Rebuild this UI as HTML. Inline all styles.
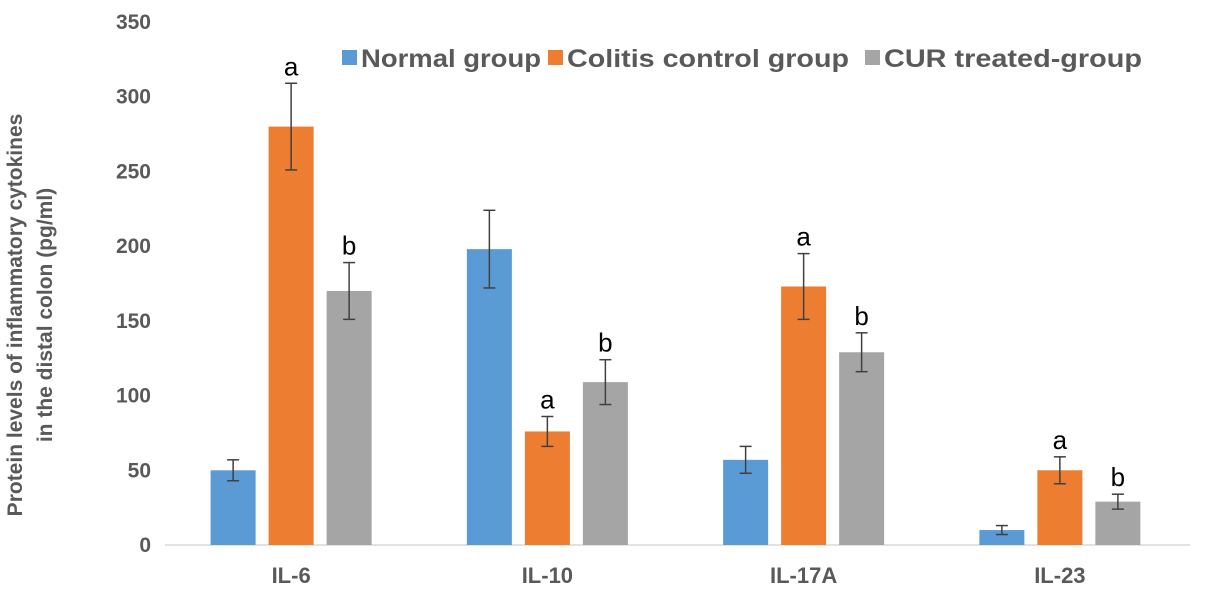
<!DOCTYPE html>
<html><head><meta charset="utf-8"><style>
body{margin:0;background:#fff;}
svg text{font-family:"Liberation Sans",Arial,sans-serif;}
</style></head><body>
<svg id="chart" width="1205" height="601" xmlns="http://www.w3.org/2000/svg"></svg>
<script>
const categories=["IL-6","IL-10","IL-17A","IL-23"];
const seriesNames=["Normal group","Colitis control group","CUR treated-group"];
const normalValues=[50,198,57,10];
const colitisValues=[280,76,173,50];
const curValues=[170,109,129,29];
const normalErr=[7,26,9,3];
const colitisErr=[29,10,22,9];
const curErr=[19,15,13,5];
const colitisLetters=["a","a","a","a"];
const curLetters=["b","b","b","b"];
const yTicks=[0,50,100,150,200,250,300,350];

const svg=document.getElementById('chart');
const NS="http://www.w3.org/2000/svg";
const colors=["#5B9BD5","#ED7D31","#A5A5A5"];
const y0=545,yTop=22,yMax=350;
const xL=165,xR=1190;
const y=v=>y0-(v/yMax)*(y0-yTop);
const groupW=(xR-xL)/categories.length;
const gc=i=>xL+groupW*(i+0.5)-2;
const barW=45,step=58;
function el(t,a,p){const e=document.createElementNS(NS,t);for(const k in a)e.setAttribute(k,a[k]);(p||svg).appendChild(e);return e;}

yTicks.forEach(t=>{
  const tx=el('text',{x:151,y:y(t)+7,'text-anchor':'end','font-size':21,'font-weight':'bold',fill:'#595959'});
  tx.textContent=t;
  
  
});
const ax=el('line',{x1:xL,x2:xR,y1:y0,y2:y0,stroke:'#D9D9D9','stroke-width':1.5});



const yt=el('text',{transform:'translate(36,315) rotate(-90)','text-anchor':'middle','font-size':21,'font-weight':'bold',fill:'#595959'});


const t1=el('tspan',{x:0,dy:-14},yt);t1.textContent="Protein levels of inflammatory cytokines";
const t2=el('tspan',{x:0,dy:30},yt);t2.textContent="in the distal colon (pg/ml)";

const vals=[normalValues,colitisValues,curValues];
const errs=[normalErr,colitisErr,curErr];
categories.forEach((c,i)=>{
  const cx=gc(i);
  const lab=el('text',{x:cx,y:583,'text-anchor':'middle','font-size':22,'font-weight':'bold',fill:'#595959'});
  lab.textContent=c;
  
  
  for(let s=0;s<3;s++){
    const bx=cx+(s-1)*step-barW/2;
    const v=vals[s][i],e=errs[s][i];
    const r=el('rect',{x:bx,y:y(v),width:barW,height:y0-y(v),fill:colors[s]});
    
    
    const m=bx+barW/2;
    const g=el('g',{stroke:'#404040','stroke-width':1.5});
    
    
    el('line',{x1:m,x2:m,y1:y(v+e),y2:y(v-e)},g);
    el('line',{x1:m-6,x2:m+6,y1:y(v+e),y2:y(v+e)},g);
    el('line',{x1:m-6,x2:m+6,y1:y(v-e),y2:y(v-e)},g);
    const L=s===1?colitisLetters[i]:s===2?curLetters[i]:"";
    if(L){
      const lt=el('text',{x:m,y:y(v+e)-8,'text-anchor':'middle','font-size':26,fill:'#000'});
      lt.textContent=L;
      
      
    }
  }
});
const legX=[342,548,865];
const legLen=[180,282,258];
seriesNames.forEach((n,s)=>{
  const g=el('g',{});
  
  
  el('rect',{x:legX[s],y:50,width:15,height:15,fill:colors[s]},g);
  const t=el('text',{x:legX[s]+19,y:67,'font-size':25,'font-weight':'bold',fill:'#595959',textLength:legLen[s],lengthAdjust:'spacingAndGlyphs'},g);
  t.textContent=n;
});
</script>
</body></html>
